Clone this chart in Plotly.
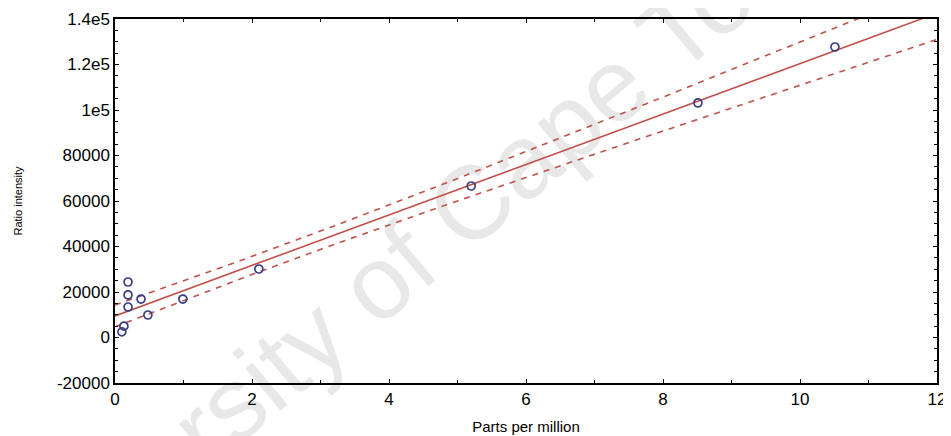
import numpy as np
import plotly.graph_objects as go

# ---- data ----
ppm = [10.51, 8.51, 5.20, 2.10, 0.99, 0.48, 0.38, 0.19, 0.19, 0.19, 0.13, 0.10]
intensity = [127700, 103100, 66600, 30100, 16900, 9900, 16900, 24400, 18700, 13400, 5000, 2500]

y_tickvals = [-20000, 0, 20000, 40000, 60000, 80000, 100000, 120000, 140000]
y_ticktext = ["-20000", "0", "20000", "40000", "60000", "80000", "1e5", "1.2e5", "1.4e5"]
x_tickvals = [0, 2, 4, 6, 8, 10, 12]
x_ticktext = ["0", "2", "4", "6", "8", "10", "12"]

T_CRIT = 2.228  # two-sided 95 %, df = n - 2 = 10
WATERMARK = "University of Cape Town"

# ---- regression with 95% confidence band ----
x = np.array(ppm, dtype=float)
y = np.array(intensity, dtype=float)
n = len(x)
slope, intercept = np.polyfit(x, y, 1)
resid = y - (intercept + slope * x)
s = np.sqrt(np.sum(resid ** 2) / (n - 2))
sxx = np.sum((x - x.mean()) ** 2)
xf = np.linspace(0, 12, 241)
yf = intercept + slope * xf
half = T_CRIT * s * np.sqrt(1.0 / n + (xf - x.mean()) ** 2 / sxx)

LINE_COLOR = "#c0524b"
MARK_COLOR = "#3a3f86"
FONT = "Liberation Sans, Arial, sans-serif"

fig = go.Figure()
fig.add_trace(go.Scatter(x=xf, y=yf + half, mode="lines",
                         line=dict(color=LINE_COLOR, width=1.6, dash="6px,6px"),
                         hoverinfo="skip", showlegend=False))
fig.add_trace(go.Scatter(x=xf, y=yf - half, mode="lines",
                         line=dict(color=LINE_COLOR, width=1.6, dash="6px,6px"),
                         hoverinfo="skip", showlegend=False))
fig.add_trace(go.Scatter(x=xf, y=yf, mode="lines",
                         line=dict(color=LINE_COLOR, width=1.6),
                         hoverinfo="skip", showlegend=False))
fig.add_trace(go.Scatter(x=ppm, y=intensity, mode="markers",
                         marker=dict(symbol="circle-open", size=8, color=MARK_COLOR,
                                     line=dict(width=1.7, color=MARK_COLOR)),
                         cliponaxis=False, showlegend=False))

fig.add_shape(type="rect", xref="paper", yref="paper",
              x0=0.252, x1=0.452, y0=0.275, y1=0.475,
              line=dict(width=0), fillcolor="rgba(0,0,0,0)", layer="below",
              label=dict(text=WATERMARK, textangle=-40, textposition="middle center",
                         font=dict(size=104, color="#e8e8e8", family=FONT)))

axis_common = dict(showgrid=False, zeroline=False, showline=True, linecolor="black",
                   linewidth=1.5, mirror="ticks", ticks="inside", ticklen=4,
                   tickcolor="black", tickwidth=1, automargin=False,
                   tickfont=dict(size=17, color="black", family=FONT))

fig.update_xaxes(range=[0, 12], tickvals=x_tickvals, ticktext=x_ticktext,
                 minor=dict(dtick=1, ticks="inside", ticklen=3, tickcolor="black"),
                 title=dict(text="Parts per million", standoff=13,
                            font=dict(size=15, color="black", family=FONT)),
                 **axis_common)
fig.update_yaxes(range=[-20000, 140000], tickvals=y_tickvals, ticktext=y_ticktext,
                 minor=dict(dtick=5000, tick0=0, ticks="inside", ticklen=3, tickcolor="black"),
                 title=dict(text="Ratio intensity", standoff=32,
                            font=dict(size=11, color="black", family=FONT)),
                 **axis_common)

# the page body adds an 8px offset, so the figure is sized to the remaining window
fig.update_layout(width=943, height=428,
                  margin=dict(l=107, r=14, t=11, b=53),
                  paper_bgcolor="white", plot_bgcolor="rgba(0,0,0,0)",
                  font=dict(family=FONT, color="black"))

fig.write_html("out.html")
